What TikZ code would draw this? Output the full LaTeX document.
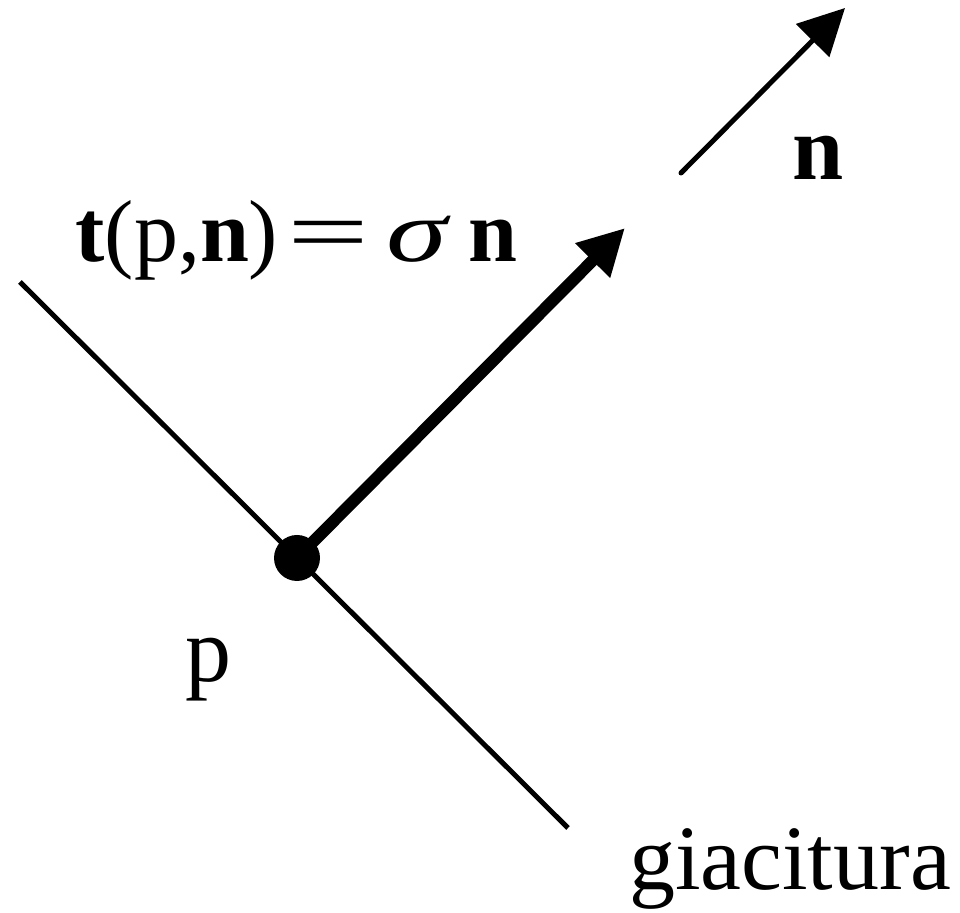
\documentclass[tikz,border=0pt]{standalone}
\usepackage{fontspec}
\setmainfont{Liberation Serif}
\usetikzlibrary{arrows.meta}
\tikzset{lab/.style={font=\fontsize{46}{50}\selectfont,inner sep=0pt},
 vett/.style={line width=2.5pt,-{Triangle[length=23pt,width=23pt]}}}
\begin{document}
\begin{tikzpicture}[x=.5pt,y=-.5pt]
\useasboundingbox(0,0)rectangle(960,913);
% giacitura
\coordinate(g1)at(20,282);\coordinate(g2)at(568,828);\draw[line width=2.5pt](g1)--(g2);
\node[lab,anchor=base]at(790,890){giacitura};
% punto e tensione
\node[circle,fill,inner sep=0pt,minimum size=23pt](p)at(297,558){};\node[lab,anchor=base]at(208,682){p};
\coordinate(t)at(625,228);\draw[vett,line width=6pt,line cap=round](p.center)--(t);
\node[lab,font=\fontsize{44}{48}\selectfont,anchor=base west](tn)at(75,262){\textbf{t}(p,\textbf{n})\kern.1em\scalebox{1.65}[1]{=}\kern.2em\scalebox{1.4}[1]{\textit{σ}}\kern.2em\textbf{n}};
% normale
\coordinate(n0)at(681,173);\coordinate(n1)at(845,8);\draw[vett,line cap=round](n0)--(n1);
\node[lab,anchor=base](nl)at(818,180){\textbf{n}};
\end{tikzpicture}
\end{document}
